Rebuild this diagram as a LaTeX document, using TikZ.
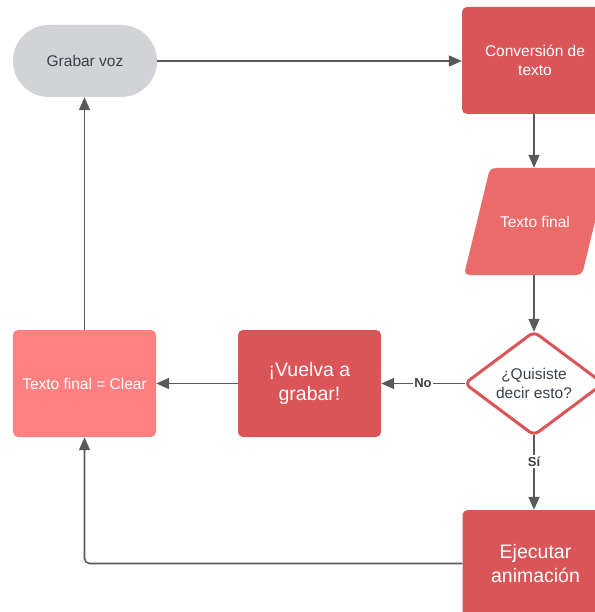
\documentclass[tikz,border=0pt]{standalone}
\usepackage{fontspec}
\setmainfont{Liberation Sans}
\usetikzlibrary{arrows.meta}
\definecolor{darkred}{RGB}{217,85,87}
\definecolor{midred}{RGB}{235,107,107}
\definecolor{lightred}{RGB}{255,128,128}
\definecolor{greybox}{RGB}{210,211,214}
\definecolor{greytext}{RGB}{58,65,74}
\definecolor{linegrey}{RGB}{90,90,90}
\begin{document}
\begin{tikzpicture}[x=1bp,y=-1bp,
  box/.style={rectangle, rounded corners=5bp, minimum width=143bp, minimum height=107bp, inner sep=0pt, align=center, text=white, font=\fontsize{15.5bp}{19bp}\selectfont},
  bigtext/.style={font=\fontsize{19.5bp}{24bp}\selectfont},
  ghost/.style={rectangle, inner sep=0pt, align=center, text=white, font=\fontsize{15.5bp}{19bp}\selectfont},
  conn/.style={draw=linegrey, line width=1.6bp, -{Triangle[length=13bp,width=11bp]}},
  lbl/.style={fill=white, inner sep=1.5bp, text=linegrey!70!black, font=\bfseries\fontsize{13bp}{15bp}\selectfont}
]
\useasboundingbox (0,0) rectangle (595,612);
% nodes
\node[box, fill=greybox, text=greytext, rounded corners=35.9bp, minimum width=144bp, minimum height=72bp] (grabar) at (85,61) {Grabar voz};
\node[box, fill=darkred, minimum width=146bp] (conv) at (535,60.5) {Conversión de\\texto};
\node[ghost, minimum width=118bp, minimum height=107bp] (tf) at (535,221.5) {};
\fill[midred, rounded corners=5bp] (490,168) -- (608,168) -- (582,275) -- (464,275) -- cycle;
\node[ghost] at (tf) {Texto final};
\node[ghost, minimum width=138bp, minimum height=103bp, text=greytext] (q) at (534,383.5) {};
\draw[darkred, line width=3bp, rounded corners=6bp, fill=white] (q.north) -- (q.east) -- (q.south) -- (q.west) -- cycle;
\node[ghost, text=greytext] at (q) {¿Quisiste\\decir esto?};
\node[box, fill=darkred, bigtext] (vuelva) at (309.5,383.5) {¡Vuelva a\\grabar!};
\node[box, fill=lightred] (clear) at (84.5,383.5) {Texto final = Clear};
\node[box, fill=darkred, bigtext, minimum width=146bp] (ejec) at (535.5,563.5) {Ejecutar\\animación};
% connectors
\draw[conn] (grabar.east) -- (conv.west |- grabar.east);
\draw[conn] (conv.south -| 534,0) -- (tf.north -| 534,0);
\draw[conn] (tf.south -| 534,0) -- (q.north);
\draw[conn] (q.west) -- node[lbl, pos=0.5] (nolbl) {No} (vuelva.east |- q.west);
\draw[conn] (q.south) -- node[lbl, pos=0.35] (silbl) {Sí} (ejec.north -| q.south);
\draw[conn] (vuelva.west) -- (clear.east);
\draw[conn] (clear.north) -- (grabar.south -| clear.north);
\draw[conn, rounded corners=5bp] (ejec.west) -| (clear.south);
\end{tikzpicture}
\end{document}
